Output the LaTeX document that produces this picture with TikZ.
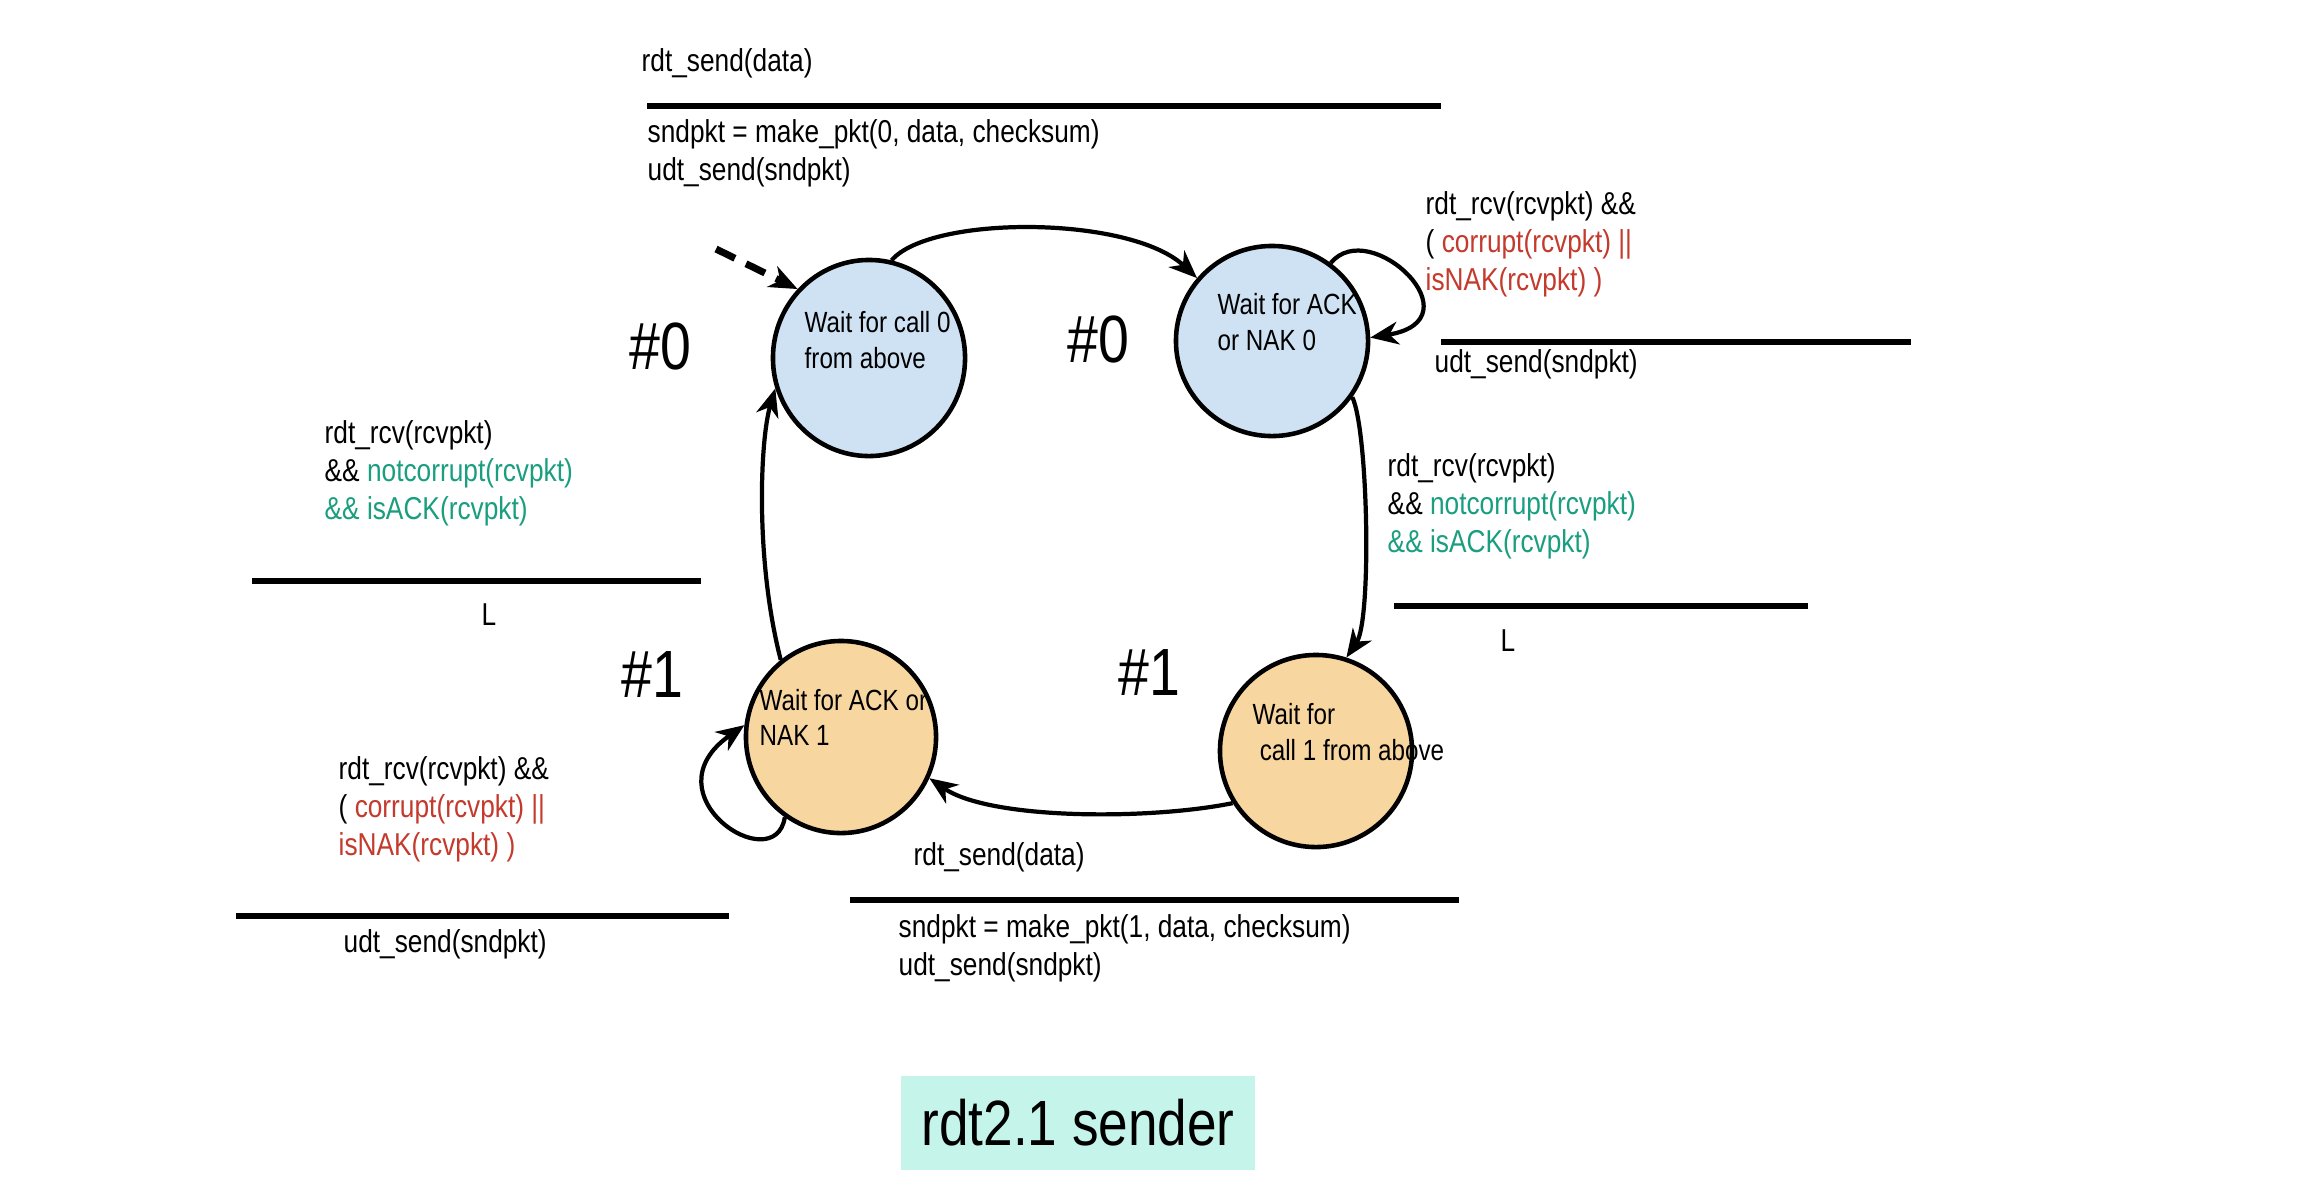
\documentclass[tikz,border=0pt]{standalone}
\usepackage{fontspec}
\setmainfont{Liberation Sans}[FakeStretch=0.83]
\usetikzlibrary{shapes.geometric,arrows.meta}
\definecolor{stblue}{RGB}{207,226,243}
\definecolor{storange}{RGB}{248,214,160}
\definecolor{gtext}{RGB}{26,158,128}
\definecolor{rtext}{RGB}{196,58,45}
\definecolor{titlebg}{RGB}{197,245,234}
\begin{document}
\begin{tikzpicture}[x=0.01cm, y=-0.01cm,
  state/.style={ellipse, draw, line width=1.3pt, inner sep=0},
  lbl/.style={inner sep=0, anchor=west, align=left, font=\fontsize{9}{10.8}\selectfont},
  stlbl/.style={inner sep=0, anchor=west, align=left, font=\fontsize{8.3}{10}\selectfont},
  hash/.style={inner sep=0, font=\fontsize{19}{22}\selectfont},
  sep/.style={line width=1.7pt},
  arr/.style={line width=1.2pt, -{Stealth[length=8pt,width=6.5pt,inset=2.5pt]}},
]
\fill[white] (0,0) rectangle (2301,1181);
\useasboundingbox (0,0) rectangle (2301,1181);

% states
\node[state, fill=stblue, minimum width=1.92cm, minimum height=1.96cm] (A) at (869,358) {};
\node[state, fill=stblue, minimum width=1.92cm, minimum height=1.90cm] (B) at (1272,341) {};
\node[state, fill=storange, minimum width=1.90cm, minimum height=1.92cm] (C) at (841,737) {};
\node[state, fill=storange, minimum width=1.92cm, minimum height=1.92cm] (D) at (1316,751) {};

% connectors
\coordinate (init) at (716,249);
\draw[arr, line width=2pt, dash pattern=on 6pt off 3.5pt] (init) -- (A.136);
\draw[arr] (A.77) .. controls (930,215) and (1130,215) .. (B.140);
\draw[arr] (B.53) .. controls (1370,215) and (1480,320) .. (B.2);
\draw[arr] (B.-35) .. controls (1368,430) and (1372,620) .. (D.72);
\draw[arr] (D.212) .. controls (1150,820) and (990,820) .. (C.-25);
\draw[arr] (C.235) .. controls (775,880) and (645,795) .. (C.173);
\draw[arr] (C.128) .. controls (755,560) and (760,440) .. (A.198);

% state texts
\node[stlbl] (tA) at (804,340) {Wait for call 0\\from above};
\node[stlbl] (tB) at (1217,322) {Wait for ACK\\or NAK 0};
\node[stlbl] (tC) at (759,717) {Wait for ACK or\\NAK 1};
\node[stlbl] (tD) at (1252,732) {Wait for\\\hspace*{2pt}call 1 from above};

% hash labels
\node[hash] (h0a) at (660,346) {\#0};
\node[hash] (h0b) at (1098,339) {\#0};
\node[hash] (h1a) at (652,674) {\#1};
\node[hash] (h1b) at (1149,672) {\#1};

% top transition
\node[lbl] (t1) at (641,63) {rdt\_send(data)};
\draw[sep] (647,106) -- (1441,106);
\node[lbl] (t2) at (647,153) {sndpkt = make\_pkt(0, data, checksum)\\udt\_send(sndpkt)};

% top right self loop
\node[lbl] (t3) at (1425,244) {rdt\_rcv(rcvpkt) \&\&\\( \textcolor{rtext}{corrupt(rcvpkt) ||}\\\textcolor{rtext}{isNAK(rcvpkt) )}};
\draw[sep] (1441,342) -- (1911,342);
\node[lbl] (t4) at (1434,364) {udt\_send(sndpkt)};

% right transition
\node[lbl] (t5) at (1387,506) {rdt\_rcv(rcvpkt)\\\&\& \textcolor{gtext}{notcorrupt(rcvpkt)}\\\textcolor{gtext}{\&\& isACK(rcvpkt)}};
\draw[sep] (1394,606) -- (1808,606);
\node[lbl] (t6) at (1500,641) {L};

% left transition
\node[lbl] (t7) at (324,473) {rdt\_rcv(rcvpkt)\\\&\& \textcolor{gtext}{notcorrupt(rcvpkt)}\\\textcolor{gtext}{\&\& isACK(rcvpkt)}};
\draw[sep] (252,581) -- (701,581);
\node[lbl] (t8) at (481,615) {L};

% bottom left self loop
\node[lbl] (t9) at (338,809) {rdt\_rcv(rcvpkt) \&\&\\( \textcolor{rtext}{corrupt(rcvpkt) ||}\\\textcolor{rtext}{isNAK(rcvpkt) )}};
\draw[sep] (236,916) -- (729,916);
\node[lbl] (t10) at (343,944) {udt\_send(sndpkt)};

% bottom transition
\node[lbl] (t11) at (913,857) {rdt\_send(data)};
\draw[sep] (850,900) -- (1459,900);
\node[lbl] (t12) at (898,948) {sndpkt = make\_pkt(1, data, checksum)\\udt\_send(sndpkt)};

% title
\node[fill=titlebg, minimum width=3.54cm, minimum height=0.94cm, inner sep=0, font=\fontsize{18.2}{20}\selectfont] (title) at (1078,1123) {rdt2.1 sender};
\end{tikzpicture}
\end{document}
